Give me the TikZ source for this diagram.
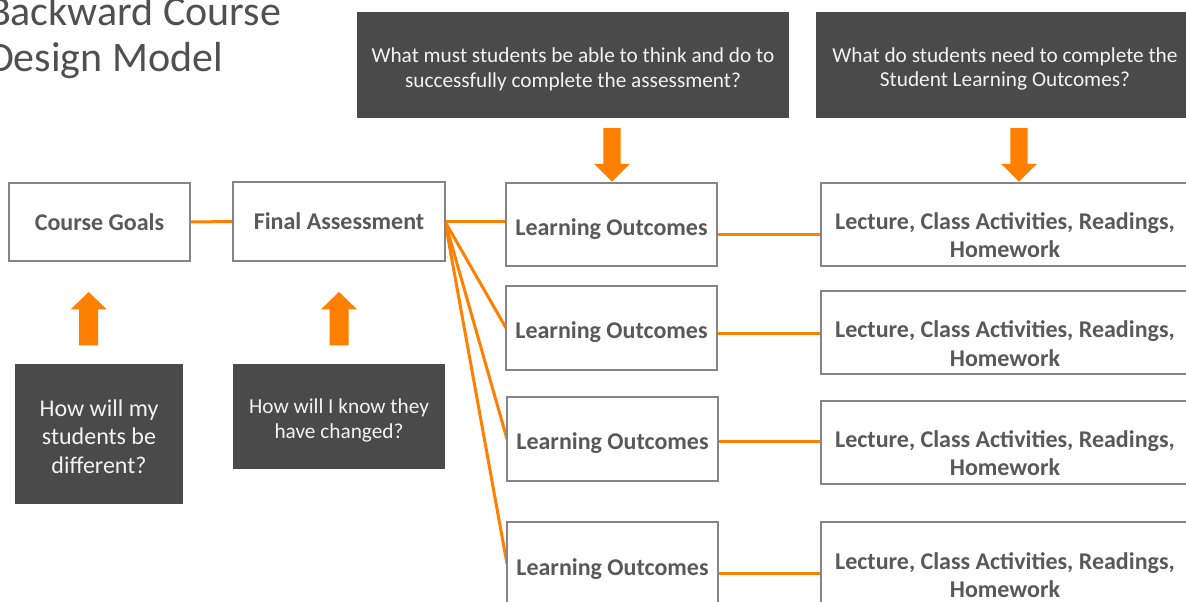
\documentclass[tikz,border=0pt]{standalone}
\usepackage{fontspec}
\setmainfont{Carlito}
\usetikzlibrary{calc,backgrounds}
\definecolor{orangeA}{HTML}{FF8000}
\definecolor{darkbox}{HTML}{4A4A4A}
\definecolor{boxline}{HTML}{858585}
\definecolor{txtgray}{HTML}{595959}
\definecolor{titlegray}{HTML}{505050}
\definecolor{lighttxt}{HTML}{F2F2F2}
\newcommand\firstdrop[1]{\rule{0pt}{#1pt}}
\begin{document}
\begin{tikzpicture}[x=1pt,y=-1pt,
  every node/.style={inner sep=0pt, outer sep=0pt},
  whitebox/.style={draw=boxline, line width=1.4pt, fill=white, anchor=north west, align=center,
    text=txtgray, font=\fontsize{24}{28.5}\selectfont\bfseries},
  darkq/.style={fill=darkbox, anchor=north west, align=center, text=lighttxt},
  link/.style={draw=orangeA, line width=3pt},
  titletext/.style={anchor=base west, text=titlegray, font=\fontsize{42}{46}\selectfont},
  pics/arrowdown/.style={code={\fill[orangeA] (0,0) -- (-18,-17.7) -- (-8.7,-17.7) -- (-8.7,-53.3) -- (8.7,-53.3) -- (8.7,-17.7) -- (18,-17.7) -- cycle;}},
  pics/arrowup/.style={code={\fill[orangeA] (0,0) -- (-18,17.3) -- (-9.5,17.3) -- (-9.5,53.3) -- (9.5,53.3) -- (9.5,17.3) -- (18,17.3) -- cycle;}},
]
\useasboundingbox (0,0) rectangle (1186,602);
\clip (0,0) rectangle (1186,602);

% title
\node[titletext] (title1) at (-12,26) {Backward Course};
\node[titletext] (title2) at (-12,71.7) {Design Model};

% question boxes (top)
\node[darkq, minimum width=432, minimum height=106, font=\fontsize{21.3}{24.5}\selectfont] (q1) at (357,12)
  {\firstdrop{23}What must students be able to think and do to\\successfully complete the assessment?};
\node[darkq, minimum width=378, minimum height=106, font=\fontsize{21.3}{24.5}\selectfont] (q2) at (816,12)
  {\firstdrop{23}What do students need to complete the\\Student Learning Outcomes?};

% main row
\node[whitebox, minimum width=181, minimum height=78] (cg) at (9,183) {Course Goals};
\node[whitebox, minimum width=212, minimum height=79] (fa) at (233,182) {Final Assessment};

\node[whitebox, minimum width=211, minimum height=83] (lo1) at (506,183) {\firstdrop{26}Learning Outcomes};
\node[whitebox, minimum width=211, minimum height=84] (lo2) at (506,286) {\firstdrop{26}Learning Outcomes};
\node[whitebox, minimum width=211, minimum height=84] (lo3) at (507,397) {\firstdrop{26}Learning Outcomes};
\node[whitebox, minimum width=211, minimum height=84] (lo4) at (507,522) {\firstdrop{27}Learning Outcomes};

\node[whitebox, minimum width=368, minimum height=83] (lh1) at (821,183) {\firstdrop{38}Lecture, Class Activities, Readings,\\Homework};
\node[whitebox, minimum width=368, minimum height=83] (lh2) at (821,291) {\firstdrop{39}Lecture, Class Activities, Readings,\\Homework};
\node[whitebox, minimum width=368, minimum height=83] (lh3) at (821,401) {\firstdrop{38}Lecture, Class Activities, Readings,\\Homework};
\node[whitebox, minimum width=368, minimum height=83] (lh4) at (821,522) {\firstdrop{40}Lecture, Class Activities, Readings,\\Homework};

% bottom question boxes
\node[darkq, minimum width=168, minimum height=140, font=\fontsize{24}{28.5}\selectfont] (h1) at (15,364)
  {\firstdrop{22}How will my\\students be\\different?};
\node[darkq, minimum width=212, minimum height=105, font=\fontsize{21.3}{25}\selectfont] (h2) at (233,364)
  {\firstdrop{23}How will I know they\\have changed?};

% connectors (behind the boxes)
\begin{scope}[on background layer]
\fill[white] (0,0) rectangle (1186,602);
\draw[link] (cg.east) -- (fa.west);
\draw[link] (fa.east) -- (fa.east -| lo1.west);
\draw[link] (fa.east) -- (lo2.west);
\draw[link] (fa.east) -- (lo3.west);
\draw[link] (fa.east) -- (lo4.west);
\draw[link] (lo1.east) ++(0,9.5) coordinate (r1) -- (r1 -| lh1.west);
\draw[link] (lo2.east) ++(0,5) coordinate (r2) -- (r2 -| lh2.west);
\draw[link] (lo3.east) ++(0,2) coordinate (r3) -- (r3 -| lh3.west);
\draw[link] (lo4.east) ++(0,9) coordinate (r4) -- (r4 -| lh4.west);
\end{scope}

% block arrows
\coordinate (t1) at ($(lo1.north)+(0.5,-1.5)$);
\coordinate (t2) at ($(lh1.north)+(14,-1.5)$);
\coordinate (t3) at ($(cg.south)+(-10.8,31)$);
\coordinate (t4) at ($(fa.south)+(0,31)$);
\pic at (t1) {arrowdown};
\pic at (t2) {arrowdown};
\pic at (t3) {arrowup};
\pic at (t4) {arrowup};
\end{tikzpicture}
\end{document}
